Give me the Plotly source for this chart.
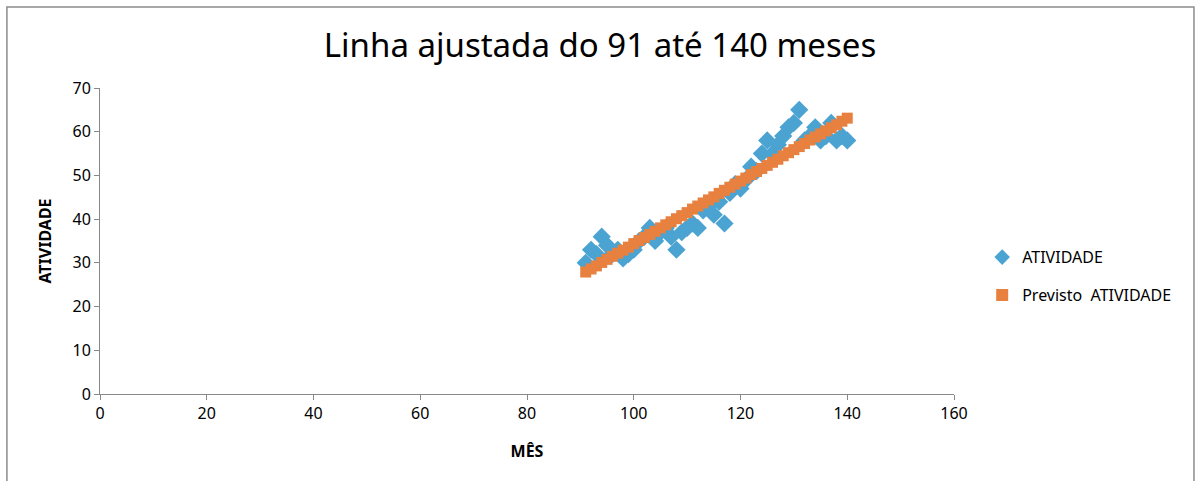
import plotly.graph_objects as go

# Months 91..140
meses = list(range(91, 141))

atividade = [30, 33, 32, 36, 34, 32, 33, 31, 32, 33,
             35, 36, 38, 35, 37, 38, 36, 33, 37, 38,
             39, 38, 42, 43, 41, 44, 39, 46, 48, 47,
             49, 52, 51, 55, 58, 55, 57, 59, 61, 62,
             65, 58, 59, 61, 58, 59, 62, 58, 59, 58]

previsto = [27.9, 28.6, 29.3, 30.1, 30.8, 31.5, 32.2, 32.9, 33.6, 34.4,
            35.1, 35.8, 36.5, 37.2, 38.0, 38.7, 39.4, 40.1, 40.8, 41.5,
            42.3, 43.0, 43.7, 44.4, 45.1, 45.9, 46.6, 47.3, 48.0, 48.7,
            49.4, 50.2, 50.9, 51.6, 52.3, 53.0, 53.7, 54.5, 55.2, 55.9,
            56.6, 57.3, 58.1, 58.8, 59.5, 60.2, 60.9, 61.6, 62.4, 63.1]

x_ticks = [0, 20, 40, 60, 80, 100, 120, 140, 160]
y_ticks = [0, 10, 20, 30, 40, 50, 60, 70]

AXIS_GRAY = "#888888"
FONT = "Noto Sans, DejaVu Sans, sans-serif"

fig = go.Figure()
fig.add_trace(go.Scatter(
    x=meses, y=atividade, mode="markers", name="ATIVIDADE", legendgroup="a",
    marker=dict(symbol="diamond", size=14, color="#4ba3d2", line=dict(width=0)),
))
fig.add_trace(go.Scatter(
    x=meses, y=previsto, mode="markers", name="Previsto  ATIVIDADE", legendgroup="b",
    marker=dict(symbol="square", size=11, color="#e8803f", line=dict(width=0)),
))

axis_common = dict(
    showline=True, linecolor=AXIS_GRAY, linewidth=1,
    ticks="outside", ticklen=5, tickcolor=AXIS_GRAY,
    showgrid=False, zeroline=False,
    tickfont=dict(family=FONT, size=16, color="#000000"),
)

fig.update_xaxes(range=[0, 160], tickvals=x_ticks, **axis_common,
                 title=dict(text="<b>MÊS</b>", font=dict(family=FONT, size=16, color="#000000"),
                            standoff=22))
fig.update_yaxes(range=[0, 70], tickvals=y_ticks, **axis_common,
                 title=dict(text="<b>ATIVIDADE</b>", font=dict(family=FONT, size=16, color="#000000"),
                            standoff=16))

# Outer chart border
fig.add_shape(type="rect", xref="paper", yref="paper",
              x0=-0.109, x1=1.281, y0=-0.4, y1=1.265,
              line=dict(color="#8c8c8c", width=1.5), fillcolor="rgba(0,0,0,0)")

fig.update_layout(
    width=1200, height=481,
    margin=dict(l=100, r=246, t=88, b=87),
    paper_bgcolor="#ffffff", plot_bgcolor="#ffffff",
    title=dict(text="Linha ajustada do 91 até 140 meses",
               font=dict(family=FONT, size=33, color="#000000"),
               x=0.5, xanchor="center", y=0.905, yanchor="middle"),
    legend=dict(x=1.033, y=0.385, xanchor="left", yanchor="middle",
                font=dict(family=FONT, size=16, color="#000000"),
                itemsizing="constant", itemwidth=30, tracegroupgap=14,
                bgcolor="rgba(0,0,0,0)"),
    showlegend=True,
)

fig.write_html("out.html")
